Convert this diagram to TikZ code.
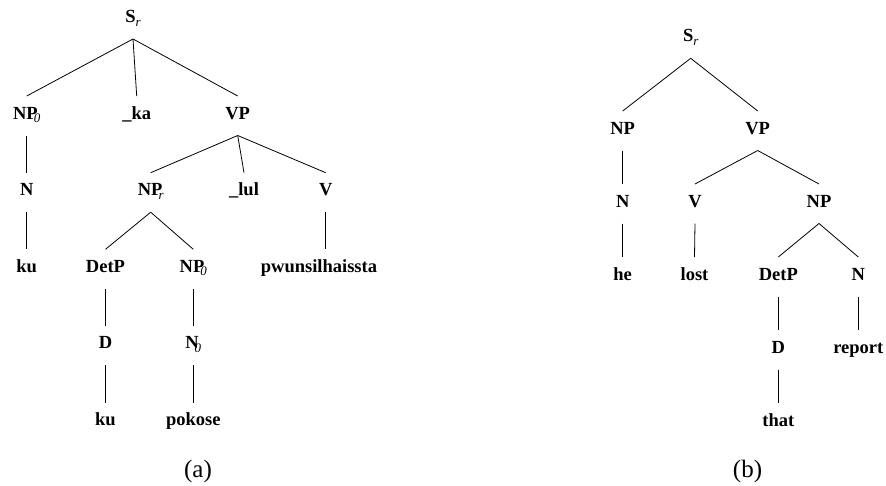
\documentclass[tikz,border=0pt]{standalone}
\usepackage{fontspec}
\setmainfont{Liberation Serif}
\newcommand{\subit}[2][0pt]{\kern#1\raisebox{-3.5pt}{\fontsize{13}{13}\selectfont\mdseries\itshape #2}}
\tikzset{
  lab/.style={anchor=base, inner sep=0pt, outer sep=0pt, text height=23pt, text depth=16.5pt,
    font=\fontsize{18.5}{20}\selectfont\bfseries},
  captext/.style={font=\fontsize{25}{28}\selectfont, inner sep=0pt},
  treeline/.style={line width=0.8pt}
}
\begin{document}
\begin{tikzpicture}[x=1pt,y=-1pt]
\useasboundingbox (0,0) rectangle (886,485);
% ---------- tree (a)
\node[lab] (sa) at (133,22.5) {S\subit{r}};
\node[lab] (np0) at (26.7,119) {NP\subit[-4pt]{0}};
\node[lab] (ka) at (136.7,119) {\_ka};
\node[lab] (vp) at (237.7,119) {VP};
\node[lab] (n1) at (26.7,195.7) {N};
\node[lab] (npr) at (150.7,195.7) {NP\subit[-4pt]{r}};
\node[lab] (lul) at (244,195.7) {\_lul};
\node[lab] (v1) at (325.7,195.7) {V};
\node[lab] (ku1) at (26.7,272.3) {ku};
\node[lab] (detp) at (105.5,272.3) {DetP};
\node[lab] (np0b) at (193.3,272.3) {NP\subit[-4pt]{0}};
\node[lab] (pwun) at (319,272.3) {pwunsilhaissta};
\node[lab] (d) at (105.5,348.7) {D};
\node[lab] (n0) at (193.3,348.7) {N\subit[-4pt]{0}};
\node[lab] (ku2) at (105.5,425.7) {ku};
\node[lab] (pokose) at (193.3,425.7) {pokose};
\node[captext] (capa) at (198,471.5) {(a)};
\draw[treeline] (sa.south) -- (np0.north);
\draw[treeline] (sa.south) -- (ka.north);
\draw[treeline] (sa.south) -- (vp.north);
\draw[treeline] (np0.south) -- (n1.north);
\draw[treeline] (vp.south) -- (npr.north);
\draw[treeline] (vp.south) -- (lul.north);
\draw[treeline] (vp.south) -- (v1.north);
\draw[treeline] (n1.south) -- (ku1.north);
\draw[treeline] (npr.south) -- (detp.north);
\draw[treeline] (npr.south) -- (np0b.north);
\draw[treeline] (v1.south) -- (v1.south |- pwun.north);
\draw[treeline] (detp.south) -- (d.north);
\draw[treeline] (np0b.south) -- (n0.north);
\draw[treeline] (d.south) -- (ku2.north);
\draw[treeline] (n0.south) -- (pokose.north);
% ---------- tree (b)
\node[lab] (sb) at (690.7,41.8) {S\subit{r}};
\node[lab] (npb) at (622.7,134) {NP};
\node[lab] (vpb) at (757.7,134) {VP};
\node[lab] (nb) at (622.7,207) {N};
\node[lab] (vb) at (695,207) {V};
\node[lab] (np2) at (819,207) {NP};
\node[lab] (he) at (622.7,280) {he};
\node[lab] (lost) at (694.5,280) {lost};
\node[lab] (detb) at (778.3,280) {DetP};
\node[lab] (nb2) at (858.3,280) {N};
\node[lab] (db) at (778.3,353) {D};
\node[lab] (report) at (858.3,353) {report};
\node[lab] (that) at (778.3,426.3) {that};
\node[captext] (capb) at (747.5,471) {(b)};
\draw[treeline] (sb.south) -- (npb.north);
\draw[treeline] (sb.south) -- (vpb.north);
\draw[treeline] (npb.south) -- (nb.north);
\draw[treeline] (vpb.south) -- (vb.north);
\draw[treeline] (vpb.south) -- (np2.north);
\draw[treeline] (nb.south) -- (he.north);
\draw[treeline] (vb.south) -- (lost.north);
\draw[treeline] (np2.south) -- (detb.north);
\draw[treeline] (np2.south) -- (nb2.north);
\draw[treeline] (detb.south) -- (db.north);
\draw[treeline] (nb2.south) -- (report.north);
\draw[treeline] (db.south) -- (that.north);
\end{tikzpicture}
\end{document}
